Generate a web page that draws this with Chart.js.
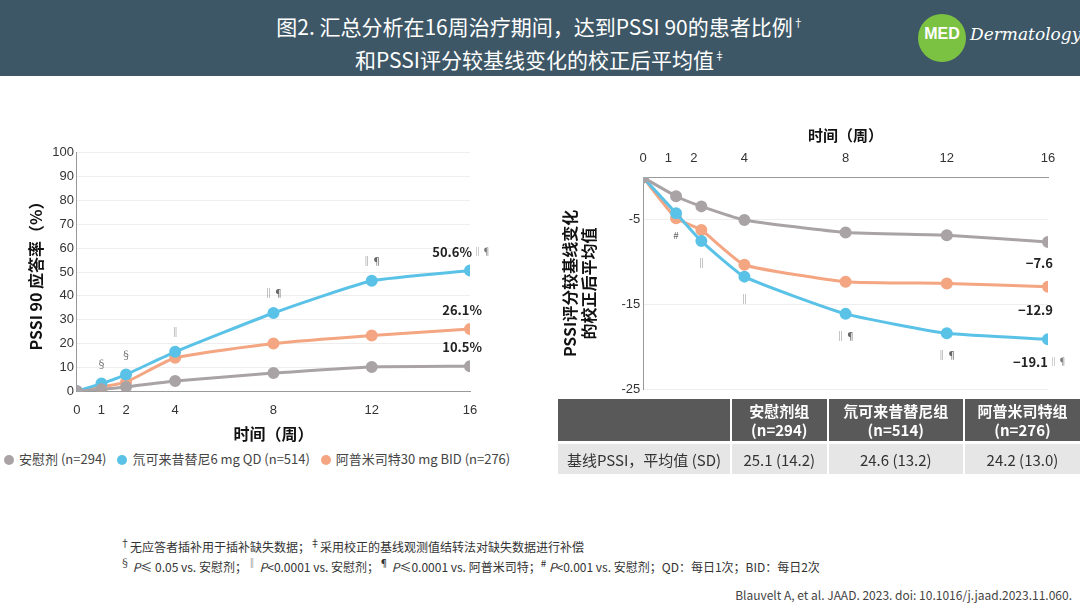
<!DOCTYPE html>
<html><head><meta charset="utf-8">
<script src="https://cdn.jsdelivr.net/npm/chart.js@4"></script>
<style>
body{margin:0;width:1080px;height:608px;background:#fff;font-family:"Noto Sans CJK SC","Open Sans",sans-serif;position:relative;overflow:hidden}
#hdr{position:absolute;left:0;top:0;width:1080px;height:76px;background:#3d5766;color:#fff;text-align:center;font-size:21px;line-height:29px;padding-top:8px;box-sizing:border-box}
#hdr sup{font-size:11px}
#logo{position:absolute;left:918px;top:14px;width:48px;height:48px;border-radius:50%;background:#7cc242;color:#fff;font:bold 16px Arial;text-align:center;line-height:40px}
#logo2{position:absolute;left:970px;top:24px;color:#fff;font:italic 17px "DejaVu Serif",serif}
.c{position:absolute}
#legend{position:absolute;left:0;top:449px;font-size:13px;color:#444;white-space:nowrap}
#legend span.d{display:inline-block;width:10px;height:10px;border-radius:50%;margin:0 5px 0 4px;vertical-align:-1px}
table{position:absolute;left:558px;top:399px;width:522px;border-collapse:collapse;font-size:15px;text-align:center}
th{background:#595959;color:#fff;font-weight:bold;line-height:19px;padding:2px 0;border-left:2px solid #fff}
td{background:#e6e6e6;color:#333;height:28px;border-left:2px solid #fff;border-top:3px solid #fff}
#foot{position:absolute;left:120px;top:535px;font-size:12px;color:#333;line-height:16px}
#cite{position:absolute;right:8px;top:586px;font-size:12px;color:#444}
</style></head><body>
<div id="hdr">图2. 汇总分析在16周治疗期间，达到PSSI 90的患者比例<sup>†</sup><br>和PSSI评分较基线变化的校正后平均值<sup>‡</sup></div>
<div id="logo">MED</div><div id="logo2">Dermatology</div>
<div class="c" style="left:22px;top:142px;width:504px;height:306px"><canvas id="left"></canvas></div>
<div id="legend"><span class="d" style="background:#a9a3a5"></span>安慰剂 (n=294) <span class="d" style="background:#5bc2e7;margin-left:8px"></span>氘可来昔替尼6 mg QD (n=514) <span class="d" style="background:#f4a582;margin-left:8px"></span>阿普米司特30 mg BID (n=276)</div>
<div class="c" style="left:540px;top:122px;width:540px;height:278px"><canvas id="right"></canvas></div>
<table><tr><th style="width:172px;border-left:none"></th><th>安慰剂组<br>(n=294)</th><th>氘可来昔替尼组<br>(n=514)</th><th>阿普米司特组<br>(n=276)</th></tr>
<tr><td style="border-left:none">基线PSSI，平均值 (SD)</td><td>25.1 (14.2)</td><td>24.6 (13.2)</td><td>24.2 (13.0)</td></tr></table>
<div id="foot"><sup>†</sup>无应答者插补用于插补缺失数据；<sup>‡</sup>采用校正的基线观测值结转法对缺失数据进行补偿<br><sup>§</sup> <i>P</i>≤ 0.05 vs. 安慰剂；<sup>‖</sup> <i>P</i>&lt;0.0001 vs. 安慰剂；<sup>¶</sup> <i>P</i>≤0.0001 vs. 阿普米司特；<sup>#</sup> <i>P</i>&lt;0.001 vs. 安慰剂；QD：每日1次；BID：每日2次</div>
<div id="cite">Blauvelt A, et al. JAAD. 2023. doi: 10.1016/j.jaad.2023.11.060.</div>
<script>
const weeks = [0, 1, 2, 4, 8, 12, 16];
const weeksRight = [0, 1.3, 2.3, 4, 8, 12, 16];
const names = ["安慰剂", "氘可来昔替尼", "阿普米司特"];
const colors = ["#a9a3a5", "#5bc2e7", "#f4a582"];
// PSSI 90 response (%)
const pssi90Placebo = [0, 0.8, 1.8, 4.3, 7.6, 10.2, 10.5];
const pssi90Deucra  = [0, 3.2, 7.0, 16.5, 32.8, 46.3, 50.6];
const pssi90Apre    = [0, 1.8, 3.8, 14.0, 20.0, 23.4, 26.1];
const sigLeft = ["", "§", "§", "‖", "‖¶", "‖¶", ""];
// Adjusted mean change from baseline in PSSI
const chgPlacebo = [0, -2.2, -3.4, -5.0, -6.5, -6.8, -7.6];
const chgDeucra  = [0, -4.2, -7.5, -11.7, -16.1, -18.4, -19.1];
const chgApre    = [0, -4.8, -6.2, -10.3, -12.3, -12.5, -12.9];
const sigRight = ["", "#", "‖", "‖", "‖¶", "‖¶", ""];
const yTicksRight = [-5, -15, -25];

const TXT = "'Noto Sans CJK SC', sans-serif";

function ds(xs, ys, c) {
  return { data: xs.map((x, i) => ({x, y: ys[i]})), borderColor: c, backgroundColor: c,
    borderWidth: 3, pointRadius: 4.5, pointHoverRadius: 4.5, tension: 0.15 };
}

// draws significance marks and end labels
function labels(sig, sigDy, ends) {
  return { id: "lbl", afterDatasetsDraw(ch) {
    const c = ch.ctx, m = ch.getDatasetMeta(1);
    c.save(); c.fillStyle = "#666"; c.font = "10px " + TXT; c.textAlign = "center";
    m.data.forEach((p, i) => { if (sig[i]) c.fillText(sig[i], p.x, p.y + sigDy); });
    c.font = "bold 13px " + TXT; c.fillStyle = "#222"; c.textAlign = "right";
    ends.forEach(e => {
      const p = ch.getDatasetMeta(e.ds).data[6];
      c.fillText(e.t, p.x + e.dx, p.y + e.dy);
      if (e.s) { c.font = "9px " + TXT; c.fillStyle = "#777"; c.textAlign = "left"; c.fillText(e.s, p.x + e.dx + 1, p.y + e.dy - 2);
        c.font = "bold 13px " + TXT; c.fillStyle = "#222"; c.textAlign = "right"; }
    });
    c.restore();
  }};
}

new Chart(document.getElementById("left"), {
  type: "line",
  data: { datasets: [ds(weeks, pssi90Placebo, colors[0]), ds(weeks, pssi90Deucra, colors[1]), ds(weeks, pssi90Apre, colors[2])] },
  options: { responsive: true, maintainAspectRatio: false, animation: false,
    layout: { padding: { right: 56, top: 6 } },
    plugins: { legend: { display: false }, tooltip: { enabled: false } },
    scales: {
      x: { type: "linear", min: 0, max: 16, afterBuildTicks: a => { a.ticks = weeks.map(v => ({value: v})); },
        grid: { display: false }, border: { color: "#999" },
        ticks: { color: "#333", font: { size: 13 } },
        title: { display: true, text: "时间（周）", color: "#111", font: { size: 16, weight: "bold", family: TXT } } },
      y: { min: 0, max: 100, ticks: { stepSize: 10, color: "#333", font: { size: 13 } },
        grid: { color: "#eee", drawTicks: false }, border: { color: "#999" },
        title: { display: true, text: "PSSI 90 应答率（%）", color: "#111", font: { size: 16, weight: "bold", family: TXT } } }
    } },
  plugins: [labels(sigLeft, -16, [
    { ds: 1, t: "50.6%", s: "‖¶", dx: 2, dy: -14 },
    { ds: 2, t: "26.1%", dx: 12, dy: -14 },
    { ds: 0, t: "10.5%", dx: 12, dy: -14 }])]
});

new Chart(document.getElementById("right"), {
  type: "line",
  data: { datasets: [ds(weeksRight, chgPlacebo, colors[0]), ds(weeksRight, chgDeucra, colors[1]), ds(weeksRight, chgApre, colors[2])] },
  options: { responsive: true, maintainAspectRatio: false, animation: false,
    layout: { padding: { right: 32, bottom: 2 } },
    plugins: { legend: { display: false }, tooltip: { enabled: false } },
    scales: {
      x: { type: "linear", position: "top", min: 0, max: 16,
        afterBuildTicks: a => { a.ticks = weeks.map(v => ({value: v})); },
        grid: { display: false, drawTicks: true }, border: { color: "#999" },
        ticks: { color: "#333", font: { size: 13 } },
        title: { display: true, text: "时间（周）", color: "#111", font: { size: 15, weight: "bold", family: TXT } } },
      y: { min: -25, max: 0, afterBuildTicks: a => { a.ticks = yTicksRight.map(v => ({value: v})); },
        ticks: { color: "#333", font: { size: 13 } },
        grid: { color: "#eee", drawTicks: false }, border: { color: "#999" },
        title: { display: true, text: ["PSSI评分较基线变化", "的校正后平均值"], color: "#111", font: { size: 16, weight: "bold", family: TXT }, padding: 20 } }
    } },
  plugins: [labels(sigRight, 26, [
    { ds: 0, t: "−7.6", dx: 5, dy: 26 },
    { ds: 2, t: "−12.9", dx: 5, dy: 28 },
    { ds: 1, t: "−19.1", s: "‖¶", dx: 0, dy: 28 }])]
});
</script>
</body></html>
